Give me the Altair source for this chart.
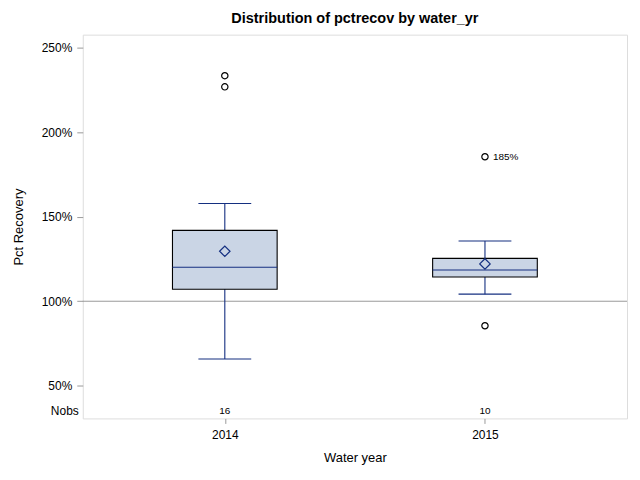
import altair as alt
import pandas as pd

years = ["2014", "2015"]
q1 = [107.1, 114.4]
median = [120.1, 118.5]
q3 = [142.0, 125.4]
whisker_low = [65.8, 104.2]
whisker_high = [157.9, 135.7]
means = [129.6, 122.1]
nobs = [16, 10]

outlier_year = ["2014", "2014", "2015", "2015"]
outlier_val = [233.6, 227.0, 185.6, 85.5]
outlier_label = ["", "", "185%", ""]

y_ticks = [50, 100, 150, 200, 250]
ref_value = 100

FONT = "Liberation Sans"
NAVY = "#142F80"
FILL = "#CAD5E5"
GRAY = "#9A9A9A"

box = pd.DataFrame({
    "year": years, "q1": q1, "median": median, "q3": q3,
    "lo": whisker_low, "hi": whisker_high, "mean": means, "nobs": nobs,
})
out = pd.DataFrame({"year": outlier_year, "val": outlier_val, "label": outlier_label})

x_enc = alt.X("year:N", scale=alt.Scale(type="point", padding=0.546),
              axis=alt.Axis(title="Water year", labelAngle=0, tickSize=5,
                            labelPadding=6, titlePadding=11, domain=False,
                            tickColor=GRAY, labelFontSize=12, titleFontSize=13,
                            titleFontWeight="normal", labelColor="#000", titleColor="#000"))
y_scale = alt.Scale(domain=[30.6, 257.9], nice=False, zero=False)
y_axis = alt.Axis(title="Pct Recovery", values=y_ticks, labelExpr="datum.value + '%'",
                  tickSize=6, labelPadding=5, titlePadding=16, domain=False, grid=False,
                  tickColor=GRAY, labelFontSize=12, titleFontSize=13,
                  titleFontWeight="normal", labelColor="#000", titleColor="#000")

base = alt.Chart(box)

ref = alt.Chart(pd.DataFrame({"r": [ref_value]})).mark_rule(color=GRAY, strokeWidth=1).encode(
    y=alt.Y("r:Q", scale=y_scale, axis=y_axis)
)
whisk = base.mark_rule(color=NAVY, strokeWidth=1.1).encode(
    x=x_enc, y=alt.Y("lo:Q", scale=y_scale), y2="hi:Q")
bars = base.mark_bar(size=105, fill=FILL, stroke="#000", strokeWidth=1.1).encode(
    x="year:N", y=alt.Y("q1:Q", scale=y_scale), y2="q3:Q")
med = base.mark_tick(size=105, thickness=1.1, color=NAVY, opacity=1).encode(
    x="year:N", y=alt.Y("median:Q", scale=y_scale))
cap_lo = base.mark_tick(size=53, thickness=1.1, color=NAVY, opacity=1).encode(
    x="year:N", y=alt.Y("lo:Q", scale=y_scale))
cap_hi = base.mark_tick(size=53, thickness=1.1, color=NAVY, opacity=1).encode(
    x="year:N", y=alt.Y("hi:Q", scale=y_scale))
mean_pt = base.mark_point(shape="diamond", size=110, filled=False, color=NAVY,
                          strokeWidth=1.2, opacity=1).encode(
    x="year:N", y=alt.Y("mean:Q", scale=y_scale))
outl = alt.Chart(out).mark_point(shape="circle", size=40, filled=False, color="#000",
                                 strokeWidth=1.2, opacity=1).encode(
    x="year:N", y=alt.Y("val:Q", scale=y_scale))
out_lbl = alt.Chart(out).transform_filter("datum.label != ''").mark_text(
    align="left", baseline="middle", dx=8, fontSize=10, font=FONT, color="#000").encode(
    x="year:N", y=alt.Y("val:Q", scale=y_scale), text="label:N")
nobs_txt = base.mark_text(baseline="middle", fontSize=10, font=FONT, color="#000").encode(
    x="year:N", y=alt.value(378), text="nobs:Q")
nobs_lbl = alt.Chart(pd.DataFrame({"t": ["Nobs"]})).mark_text(
    align="right", baseline="middle", fontSize=12, font=FONT, color="#000").encode(
    x=alt.value(-4), y=alt.value(378), text="t:N")

chart = alt.layer(ref, whisk, bars, med, cap_lo, cap_hi, mean_pt, outl, out_lbl,
                  nobs_txt, nobs_lbl).properties(
    width=546, height=385,
    title=alt.TitleParams("Distribution of pctrecov by water_yr", fontSize=14.5,
                          fontWeight="bold", font=FONT, anchor="middle", offset=8, color="#000"),
    autosize=alt.AutoSizeParams(type="none"),
    padding={"left": 75, "top": 26, "right": 5, "bottom": 50},
).configure_view(stroke=GRAY, strokeWidth=1).configure_axis(
    labelFont=FONT, titleFont=FONT
).configure(background="white")

chart.save("out.html", embed_options={"renderer": "svg", "actions": False})
